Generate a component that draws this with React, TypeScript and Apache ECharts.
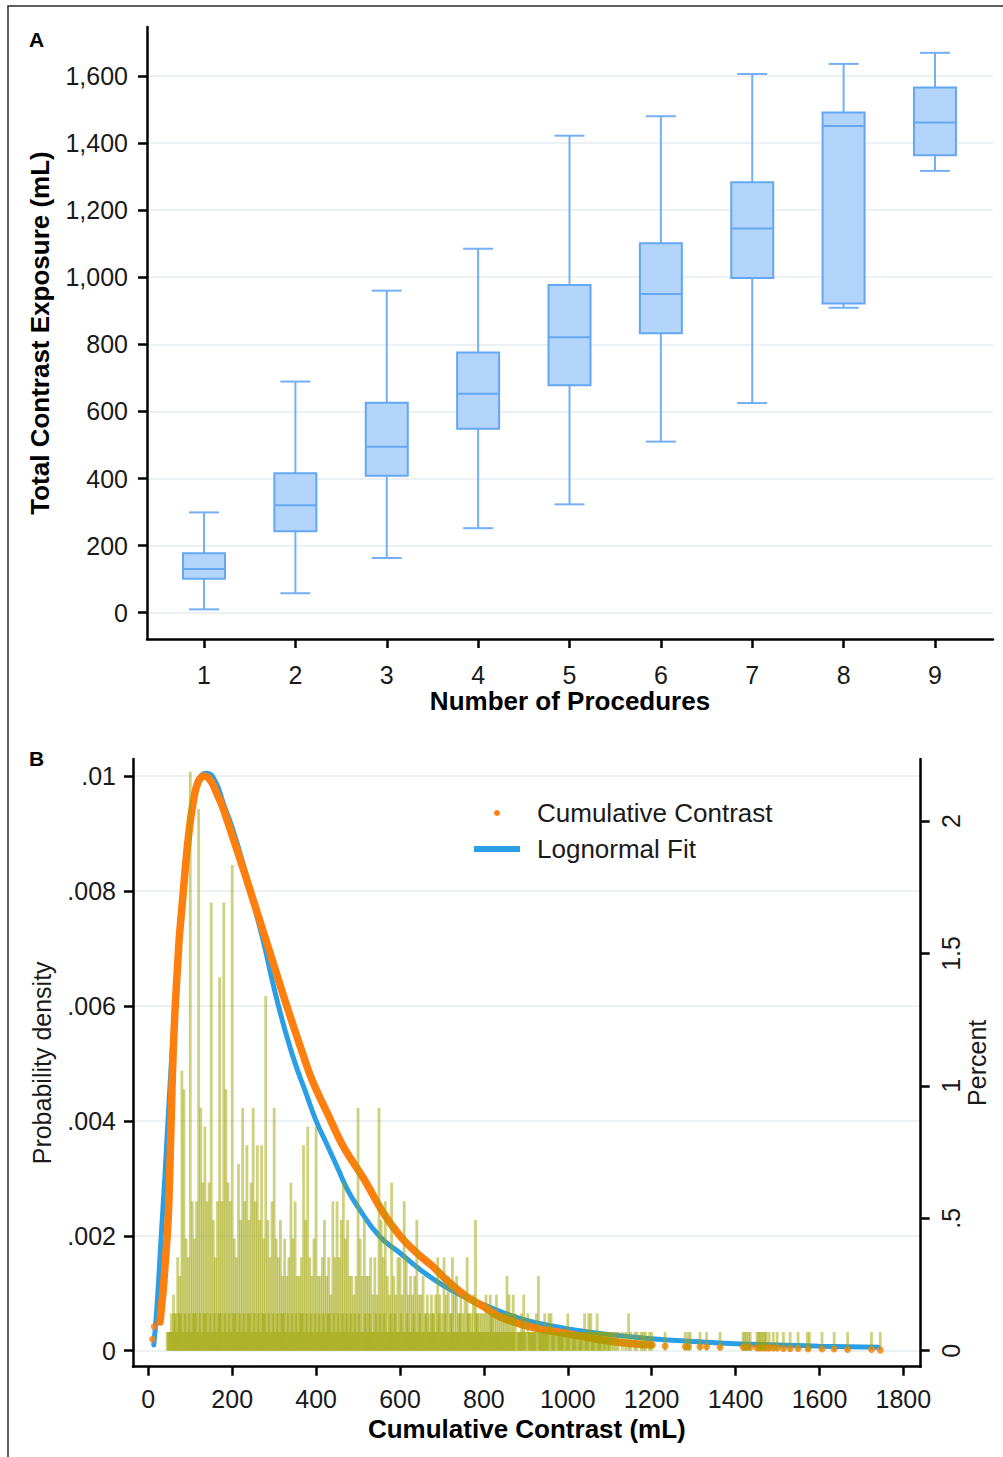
import React, { useEffect, useRef } from "react";
import * as echarts from "echarts";

// ---------- Panel A: total contrast exposure by number of procedures ----------
const procedureCounts = [1, 2, 3, 4, 5, 6, 7, 8, 9];
const boxMin = [10, 58, 163, 252, 323, 510, 625, 909, 1317];
const boxQ1 = [101, 243, 408, 548, 678, 833, 998, 922, 1364];
const boxMedian = [130, 320, 495, 653, 821, 950, 1145, 1451, 1461];
const boxQ3 = [177, 416, 626, 776, 977, 1101, 1283, 1491, 1566];
const boxMax = [299, 689, 960, 1085, 1422, 1480, 1606, 1636, 1669];
const contrastTicks = [0, 200, 400, 600, 800, 1000, 1200, 1400, 1600];

// ---------- Panel B: cumulative contrast distribution ----------
const cumulativeTicks = [0, 200, 400, 600, 800, 1000, 1200, 1400, 1600, 1800];
const densityTicks = [0, 0.002, 0.004, 0.006, 0.008, 0.01];
const percentTicks = [0, 0.5, 1, 1.5, 2];

// histogram: patient counts at round volumes (every 5 mL from 45 mL)
const TOTAL_PATIENTS = 1418;
const histBinStart = 45;
const histBinWidth = 5;
const histCounts = [
  1, 1, 2, 3, 2, 5, 4, 15, 14, 6, 5,
  31, 8, 6, 8, 29, 13, 9, 12, 8, 9,
  24, 7, 5, 8, 20, 8, 24, 14, 9, 8,
  26, 6, 5, 10, 7, 13, 8, 11, 7, 9,
  13, 8, 11, 7, 11, 6, 19, 7, 5, 8,
  13, 6, 5, 7, 4, 6, 4, 5, 9, 6,
  8, 4, 4, 5, 11, 7, 12, 5, 4, 6,
  12, 4, 4, 5, 7, 4, 5, 3, 8, 5,
  8, 5, 7, 9, 6, 7, 4, 4, 3, 4,
  13, 6, 4, 7, 4, 4, 5, 3, 5, 3,
  13, 7, 5, 8, 4, 3, 9, 4, 3, 5,
  5, 3, 8, 5, 3, 4, 3, 4, 7, 3,
  3, 4, 2, 3, 2, 3, 2, 3, 5, 3,
  2, 5, 3, 4, 2, 5, 3, 4, 2, 3,
  2, 3, 5, 2, 2, 3, 7, 2, 2, 2,
  2, 3, 2, 3, 2, 2, 3, 2, 2, 2,
  2, 4, 3, 2, 3, 2, 1, 1, 2, 3,
  1, 2, 1, 1, 1, 2, 4, 1, 1, 2,
  1, 2, 2, 1, 1, 1, 1, 1, 1, 1,
  2, 1, 1, 1, 1, 1, 1, 1, 2, 1,
  2, 2, 1, 1, 2, 1, 1, 1, 1, 1,
  1, 1, 1, 1, 1,
];
// patient counts at the in-between volumes (every 5 mL from 47.5 mL)
const histOffStart = 47.5;
const histOffCounts = [
  1, 1, 1, 2, 1, 2, 2, 1, 2, 1,
  2, 1, 2, 2, 1, 2, 1, 2, 2, 1,
  2, 1, 2, 1, 2, 2, 1, 2, 1, 2,
  1, 2, 2, 1, 2, 1, 2, 1, 2, 2,
  1, 2, 1, 2, 1, 2, 2, 1, 2, 1,
  2, 1, 2, 1, 2, 2, 1, 2, 1, 2,
  1, 2, 1, 2, 2, 1, 2, 1, 2, 1,
  2, 1, 2, 1, 2, 1, 2, 2, 1, 2,
  1, 2, 1, 2, 1, 2, 1, 2, 1, 2,
  1, 2, 1, 1, 2, 1, 2, 1, 1, 2,
  1, 2, 1, 2, 1, 1, 2, 1, 2, 1,
  1, 2, 1, 1, 2, 1, 1, 2, 1, 1,
  2, 1, 1, 2, 1, 1, 2, 1, 1, 2,
  1, 1, 2, 1, 1, 2, 1, 1, 1, 2,
  1, 1, 1, 2, 1, 1, 1, 2, 1, 1,
  1, 1, 1, 1, 2, 1, 1, 1, 1, 1,
  1, 1, 1, 1, 1, 1, 0, 1, 1, 1,
  1, 0, 1, 1, 1, 1, 0, 1, 1, 1,
  1, 1, 0, 1, 1, 0, 1, 1, 1, 0,
  1, 1, 0, 1, 1, 0, 1, 1, 0, 1,
  1, 0, 1, 1, 0, 1, 1, 0, 1, 0,
  1,
];
const histTailValues = [
  1130, 1138, 1145, 1150, 1160, 1165, 1175, 1180, 1185, 1195, 1200, 1232, 1280, 1287, 1292,
  1315, 1331, 1363, 1418, 1422, 1426, 1431, 1435, 1451, 1455, 1458, 1462, 1466, 1470, 1473,
  1480, 1490, 1499, 1514, 1530, 1549, 1571, 1576, 1606, 1635, 1667, 1724, 1745,
];
const histTailCounts = [
  1, 1, 2, 1, 1, 1, 1, 1, 1, 1, 1, 1, 1, 1, 1,
  1, 1, 1, 1, 1, 1, 1, 1, 1, 1, 1, 1, 1, 1, 1,
  1, 1, 1, 1, 1, 1, 1, 1, 1, 1, 1, 1, 1,
];

// lognormal fit (probability density)
const lognormalX = [13, 20, 30, 40, 50, 60, 70, 80, 90, 100, 110, 125, 140, 160, 180, 200, 225, 250, 275, 300, 325, 350, 375, 400, 425, 450, 475, 500, 550, 600, 650, 700, 750, 800, 850, 900, 950, 1000, 1100, 1200, 1300, 1400, 1500, 1600, 1740];
const lognormalDensity = [0.0001, 0.0007, 0.0019, 0.0031, 0.0044, 0.0056, 0.0067, 0.0077, 0.0085, 0.0092, 0.0097, 0.01, 0.01005, 0.0099, 0.0095, 0.0091, 0.0085, 0.0078, 0.0071, 0.0063, 0.0056, 0.005, 0.0045, 0.004, 0.0036, 0.0032, 0.0028, 0.0025, 0.002, 0.0017, 0.0014, 0.00115, 0.00095, 0.0008, 0.00065, 0.00053, 0.00045, 0.00038, 0.00028, 0.00021, 0.00016, 0.00012, 0.0001, 0.00008, 0.00006];

// observed cumulative contrast density (dense part)
const kdeX = [28, 32, 36, 40, 44, 48, 53, 57, 61, 65, 69, 74, 80, 87, 95, 106, 119, 135, 150, 163, 175, 203, 230, 254, 278, 302, 330, 362, 391, 429, 465, 513, 560, 600, 640, 679, 711, 759, 799, 838, 918, 997, 1077, 1156, 1200];
const kdeDensity = [0.0005, 0.0008, 0.0011, 0.0015, 0.0019, 0.0024, 0.0036, 0.0047, 0.0055, 0.0061, 0.0066, 0.0072, 0.0077, 0.0083, 0.0089, 0.0095, 0.0099, 0.01, 0.0099, 0.0097, 0.0095, 0.0089, 0.0083, 0.00775, 0.0072, 0.00665, 0.006, 0.0053, 0.0047, 0.0041, 0.00355, 0.003, 0.0024, 0.002, 0.0017, 0.00146, 0.00123, 0.00094, 0.00077, 0.00059, 0.0004, 0.0003, 0.00019, 0.00012, 0.0001];
// isolated observations (left foot and right tail)
const kdeDotX = [10, 14, 1232, 1280, 1287, 1315, 1331, 1363, 1418, 1426, 1435, 1451, 1458, 1466, 1473, 1480, 1490, 1499, 1514, 1530, 1549, 1573, 1606, 1635, 1667, 1724, 1745];
const kdeDotDensity = [0.0002, 0.00042, 0.00008, 0.00007, 0.00007, 0.00007, 0.00007, 0.00006, 0.00006, 0.00006, 0.00006, 0.00005, 0.00005, 0.00005, 0.00005, 0.00005, 0.00005, 0.00005, 0.00004, 0.00004, 0.00004, 0.00003, 0.00003, 0.00003, 0.00002, 0.00002, 0.00001];

const FONT = '"Liberation Sans", Arial, Helvetica, sans-serif';
const AXIS_COLOR = "#000";
const LABEL_COLOR = "#1a1a1a";
const GRID_COLOR = "#e6edf0";
const BOX_FILL = "#b3d4fb";
const BOX_STROKE = "#64a7f3";
const WHISKER = "#74aff6";
const ORANGE = "#ff7f0e";
const BLUE = "#2a9fe6";
const OLIVE = "rgba(158,164,0,0.5)";

const dotFmt = (v: number) =>
  v === 0 ? "0" : String(+Number(v).toFixed(4)).replace(/^0\./, ".");

const axisLineStyle = { color: AXIS_COLOR, width: 2.5 };

function buildOption() {
  const boxData = procedureCounts.map((p, i) => [p, boxMin[i], boxQ1[i], boxMedian[i], boxQ3[i], boxMax[i]]);
  const toPct = (c: number) => (c * 100) / TOTAL_PATIENTS;
  const histData = [
    ...histCounts.map((c, i) => [histBinStart + i * histBinWidth, toPct(c)]),
    ...histOffCounts.map((c, i) => [histOffStart + i * histBinWidth, toPct(c)]),
    ...histTailValues.map((v, i) => [v, toPct(histTailCounts[i])]),
  ];
  const lognormalData = lognormalX.map((x, i) => [x, lognormalDensity[i]]);
  const kdeData = kdeX.map((x, i) => [x, kdeDensity[i]]);
  const kdeDotData = kdeDotX.map((x, i) => [x, kdeDotDensity[i]]);

  return {
    animation: false,
    backgroundColor: "#fff",
    textStyle: { fontFamily: FONT },
    grid: [
      { left: 147, right: 10, top: 27, bottom: 818, outerBoundsMode: "none", containLabel: false },
      { left: 133, right: 82.3, top: 759, bottom: 90.3, outerBoundsMode: "none", containLabel: false },
    ],
    xAxis: [
      {
        gridIndex: 0,
        type: "value",
        min: 0.376,
        max: 9.635,
        axisLine: { show: true, onZero: false, lineStyle: axisLineStyle },
        axisTick: { show: true, length: 9, lineStyle: axisLineStyle, customValues: procedureCounts },
        axisLabel: { customValues: procedureCounts, margin: 23, fontSize: 25, color: LABEL_COLOR, fontFamily: FONT },
        splitLine: { show: false },
        name: "Number of Procedures",
        nameLocation: "middle",
        nameGap: 49,
        nameMoveOverlap: false,
        nameTextStyle: { fontSize: 26, fontWeight: "bold", color: "#000", fontFamily: FONT },
      },
      {
        gridIndex: 1,
        type: "value",
        min: -36.5,
        max: 1841.3,
        axisLine: { show: true, onZero: false, lineStyle: axisLineStyle },
        axisTick: { show: true, length: 9, lineStyle: axisLineStyle, customValues: cumulativeTicks },
        axisLabel: { customValues: cumulativeTicks, margin: 20, fontSize: 25, color: LABEL_COLOR, fontFamily: FONT, formatter: (v: number) => String(v) },
        splitLine: { show: false },
        name: "Cumulative Contrast (mL)",
        nameLocation: "middle",
        nameGap: 49,
        nameMoveOverlap: false,
        nameTextStyle: { fontSize: 26, fontWeight: "bold", color: "#000", fontFamily: FONT },
      },
    ],
    yAxis: [
      {
        gridIndex: 0,
        type: "value",
        min: -78.4,
        max: 1746,
        axisLine: { show: true, onZero: false, lineStyle: axisLineStyle },
        axisTick: { show: true, length: 9, lineStyle: axisLineStyle, customValues: contrastTicks },
        axisLabel: {
          customValues: contrastTicks,
          margin: 19,
          fontSize: 25,
          color: LABEL_COLOR,
          fontFamily: FONT,
          formatter: (v: number) => Number(v).toLocaleString("en-US"),
        },
        splitLine: { show: true, lineStyle: { color: GRID_COLOR, width: 1.5 } },
        name: "Total Contrast Exposure (mL)",
        nameLocation: "middle",
        nameGap: 94,
        nameRotate: 90,
        nameMoveOverlap: false,
        nameTextStyle: { fontSize: 26, fontWeight: "bold", color: "#000", fontFamily: FONT },
      },
      {
        gridIndex: 1,
        type: "value",
        position: "left",
        min: -0.000278,
        max: 0.010296,
        axisLine: { show: true, onZero: false, lineStyle: axisLineStyle },
        axisTick: { show: true, length: 9, lineStyle: axisLineStyle, customValues: densityTicks },
        axisLabel: { customValues: densityTicks, margin: 17, fontSize: 25, color: LABEL_COLOR, fontFamily: FONT, formatter: dotFmt },
        splitLine: { show: true, lineStyle: { color: GRID_COLOR, width: 1.5 } },
        name: "Probability density",
        nameLocation: "middle",
        nameGap: 79,
        nameRotate: 90,
        nameMoveOverlap: false,
        nameTextStyle: { fontSize: 25, color: LABEL_COLOR, fontFamily: FONT },
      },
      {
        gridIndex: 1,
        type: "value",
        position: "right",
        min: -0.0604,
        max: 2.234,
        axisLine: { show: true, onZero: false, lineStyle: axisLineStyle },
        axisTick: { show: true, length: 9, lineStyle: axisLineStyle, customValues: percentTicks },
        axisLabel: { customValues: percentTicks, margin: 18, rotate: 90, fontSize: 25, color: LABEL_COLOR, fontFamily: FONT, formatter: dotFmt },
        splitLine: { show: false },
        name: "Percent",
        nameLocation: "middle",
        nameGap: 44,
        nameRotate: 90,
        nameMoveOverlap: false,
        nameTextStyle: { fontSize: 25, color: LABEL_COLOR, fontFamily: FONT },
      },
    ],
    legend: {
      show: true,
      orient: "vertical",
      left: 474,
      top: 800,
      padding: 0,
      itemWidth: 46,
      itemHeight: 6,
      itemGap: 10,
      selectedMode: false,
      data: [
        { name: "Cumulative Contrast", icon: "circle", itemStyle: { color: ORANGE } },
        { name: "Lognormal Fit", icon: "rect", itemStyle: { color: BLUE } },
      ],
      textStyle: { fontSize: 26, color: LABEL_COLOR, fontFamily: FONT, padding: [0, 0, 0, 12] },
    },
    graphic: [
      { type: "rect", shape: { x: 8, y: 6, width: 1100, height: 1500 }, style: { fill: "none", stroke: "#2b2b2b", lineWidth: 1.5 }, silent: true },
      { type: "text", x: 36.5, y: 39.5, style: { text: "A", fontSize: 21, fontWeight: "bold", fontFamily: FONT, fill: "#000", align: "center", verticalAlign: "middle" } },
      { type: "text", x: 36.5, y: 758.5, style: { text: "B", fontSize: 21, fontWeight: "bold", fontFamily: FONT, fill: "#000", align: "center", verticalAlign: "middle" } },
    ],
    series: [
      {
        type: "custom",
        name: "Total Contrast Exposure",
        xAxisIndex: 0,
        yAxisIndex: 0,
        data: boxData,
        encode: { x: 0, y: [1, 2, 3, 4, 5] },
        renderItem: (_params: any, api: any) => {
          const x = api.value(0);
          const pMin = api.coord([x, api.value(1)]);
          const pQ1 = api.coord([x, api.value(2)]);
          const pMed = api.coord([x, api.value(3)]);
          const pQ3 = api.coord([x, api.value(4)]);
          const pMax = api.coord([x, api.value(5)]);
          const cx = pMed[0];
          const hw = 21;
          const cw = 15;
          const wStyle = { stroke: WHISKER, lineWidth: 2, fill: "none" };
          return {
            type: "group",
            children: [
              { type: "line", shape: { x1: cx, y1: pMax[1], x2: cx, y2: pQ3[1] }, style: wStyle },
              { type: "line", shape: { x1: cx, y1: pQ1[1], x2: cx, y2: pMin[1] }, style: wStyle },
              { type: "line", shape: { x1: cx - cw, y1: pMax[1], x2: cx + cw, y2: pMax[1] }, style: wStyle },
              { type: "line", shape: { x1: cx - cw, y1: pMin[1], x2: cx + cw, y2: pMin[1] }, style: wStyle },
              {
                type: "rect",
                shape: { x: cx - hw, y: pQ3[1], width: hw * 2, height: pQ1[1] - pQ3[1] },
                style: { fill: BOX_FILL, stroke: BOX_STROKE, lineWidth: 2 },
              },
              { type: "line", shape: { x1: cx - hw, y1: pMed[1], x2: cx + hw, y2: pMed[1] }, style: { stroke: BOX_STROKE, lineWidth: 2 } },
            ],
          };
        },
        z: 3,
      },
      {
        type: "line",
        name: "Lognormal Fit",
        xAxisIndex: 1,
        yAxisIndex: 1,
        data: lognormalData,
        smooth: 0.5,
        showSymbol: false,
        color: BLUE,
        itemStyle: { color: BLUE },
        lineStyle: { color: BLUE, width: 5, cap: "round", join: "round" },
        z: 3,
      },
      {
        type: "line",
        name: "Cumulative Contrast",
        xAxisIndex: 1,
        yAxisIndex: 1,
        data: kdeData,
        smooth: 0.4,
        showSymbol: false,
        color: ORANGE,
        itemStyle: { color: ORANGE },
        lineStyle: { color: ORANGE, width: 7.5, cap: "round", join: "round" },
        z: 4,
      },
      {
        type: "scatter",
        name: "Cumulative Contrast",
        xAxisIndex: 1,
        yAxisIndex: 1,
        data: kdeDotData,
        symbol: "circle",
        symbolSize: 7,
        color: ORANGE,
        itemStyle: { color: ORANGE },
        z: 4,
      },
      {
        type: "bar",
        name: "Percent of patients",
        xAxisIndex: 1,
        yAxisIndex: 2,
        data: histData,
        barWidth: 2.8,
        itemStyle: { color: OLIVE },
        z: 5,
      },
    ],
  };
}

export default function App() {
  const ref = useRef<HTMLDivElement>(null);
  useEffect(() => {
    if (!ref.current) return;
    const chart = echarts.init(ref.current, undefined, { renderer: "svg" });
    chart.setOption(buildOption() as any);
    return () => chart.dispose();
  }, []);
  return (
    <div
      ref={ref}
      style={{ position: "absolute", left: 0, top: 0, width: 1003, height: 1457, background: "#fff" }}
    />
  );
}
